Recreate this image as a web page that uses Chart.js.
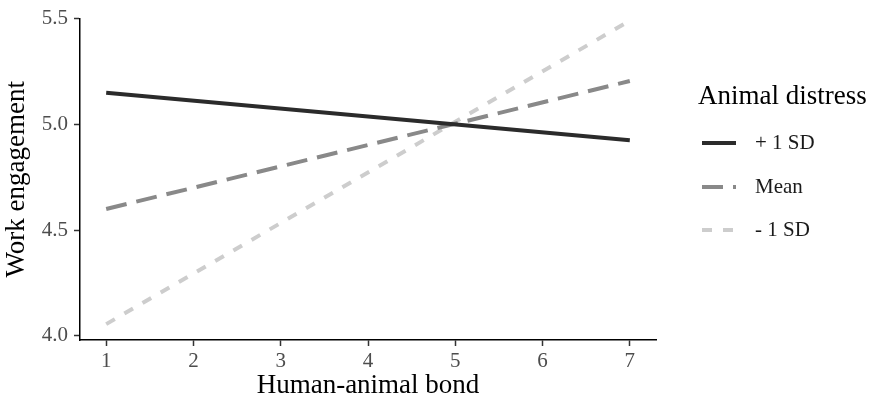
<!DOCTYPE html>
<html>
<head>
<meta charset="utf-8">
<script src="https://cdn.jsdelivr.net/npm/chart.js@4/dist/chart.umd.min.js"></script>
<style>
  html, body { margin: 0; padding: 0; background: #fff; }
  #wrap { width: 873px; height: 399px; position: relative; }
</style>
</head>
<body>
<div id="wrap"><canvas id="chart"></canvas></div>
<script>
// values
const bond = [1, 7];
const plusSD = [5.15, 4.925];
const meanVals = [4.60, 5.205];
const minusSD = [4.056, 5.49];
const seriesLabels = ['+ 1 SD', 'Mean', '- 1 SD'];
const xTicks = [1, 2, 3, 4, 5, 6, 7];
const yTicks = [4.0, 4.5, 5.0, 5.5];

const serif = "'Liberation Serif', 'Times New Roman', serif";

function toPoints(ys) {
    return ys.map((y, i) => ({ x: bond[i], y: y }));
}

// legend drawn by hand on the right, ggplot style
const sideLegend = {
    id: 'sideLegend',
    afterDraw(chart) {
        const ctx = chart.ctx;
        ctx.save();
        ctx.fillStyle = '#000';
        ctx.textBaseline = 'middle';
        ctx.textAlign = 'left';
        ctx.font = '27px ' + serif;
        ctx.fillText('Animal distress', 698, 97);
        const rows = [143, 187, 230];
        chart.data.datasets.forEach((ds, i) => {
            const y = rows[i];
            ctx.strokeStyle = ds.borderColor;
            ctx.lineWidth = ds.borderWidth;
            ctx.lineCap = 'butt';
            ctx.setLineDash(ds.borderDash || []);
            ctx.beginPath();
            ctx.moveTo(702, y);
            ctx.lineTo(736, y);
            ctx.stroke();
            ctx.setLineDash([]);
            ctx.font = '21px ' + serif;
            ctx.fillStyle = '#1a1a1a';
            ctx.fillText(ds.label, 755, y);
        });
        ctx.restore();
    }
};

new Chart(document.getElementById('chart'), {
    type: 'line',
    data: {
        datasets: [{
            label: seriesLabels[0],
            data: toPoints(plusSD),
            borderColor: '#2b2b2b',
            borderWidth: 4,
            borderDash: []
        }, {
            label: seriesLabels[1],
            data: toPoints(meanVals),
            borderColor: '#898989',
            borderWidth: 4,
            borderDash: [21, 10]
        }, {
            label: seriesLabels[2],
            data: toPoints(minusSD),
            borderColor: '#cdcdcd',
            borderWidth: 4,
            borderDash: [10, 11]
        }]
    },
    options: {
        responsive: true,
        maintainAspectRatio: false,
        animation: false,
        elements: {
            point: { radius: 0 },
            line: { tension: 0, borderCapStyle: 'butt' }
        },
        layout: { padding: { top: 14, right: 217, left: 0, bottom: 0 } },
        plugins: {
            legend: { display: false },
            tooltip: { enabled: false }
        },
        scales: {
            x: {
                type: 'linear',
                min: 0.7,
                max: 7.3,
                afterBuildTicks: s => { s.ticks = xTicks.map(v => ({ value: v })); },
                afterFit: s => { s.height = 59; },
                border: { display: true, color: '#000', width: 1.5 },
                grid: { drawOnChartArea: false, drawTicks: true, tickLength: 6, tickColor: '#333', tickWidth: 1.5 },
                ticks: {
                    color: '#4d4d4d',
                    padding: 3,
                    maxRotation: 0,
                    font: { family: serif, size: 21 },
                    callback: v => String(v)
                },
                title: {
                    display: true,
                    text: 'Human-animal bond',
                    color: '#000',
                    padding: { top: 0, bottom: 0 },
                    font: { family: serif, size: 27, lineHeight: 1.0 }
                }
            },
            y: {
                type: 'linear',
                min: 3.981,
                max: 5.5,
                afterBuildTicks: s => { s.ticks = yTicks.map(v => ({ value: v })); },
                afterFit: s => { s.width = 80; },
                border: { display: true, color: '#000', width: 1.5 },
                grid: { drawOnChartArea: false, drawTicks: true, tickLength: 6, tickColor: '#333', tickWidth: 1.5 },
                ticks: {
                    color: '#4d4d4d',
                    padding: 6,
                    font: { family: serif, size: 21 },
                    callback: v => Number(v).toFixed(1)
                },
                title: {
                    display: true,
                    text: 'Work engagement',
                    color: '#000',
                    padding: { top: 3, bottom: 0 },
                    font: { family: serif, size: 27, lineHeight: 1.0 }
                }
            }
        }
    },
    plugins: [sideLegend]
});
</script>
</body>
</html>
